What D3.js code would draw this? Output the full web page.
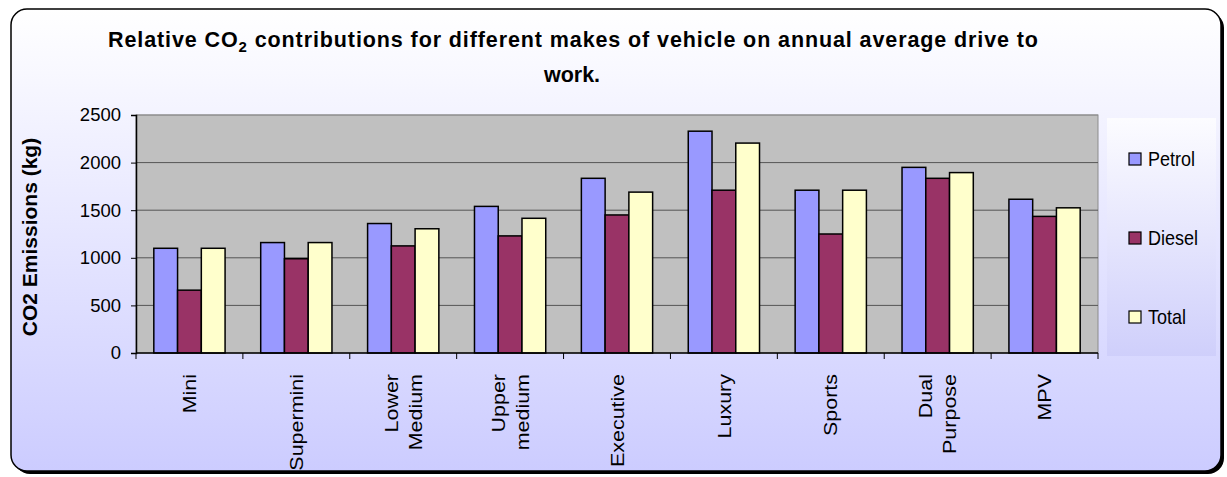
<!DOCTYPE html>
<html lang="en">
<head>
<meta charset="utf-8">
<title>Relative CO2 contributions</title>
<script src="https://d3js.org/d3.v7.min.js"></script>
<style>
  body { margin: 0; background: #ffffff; }
  svg { display: block; font-family: "Liberation Sans", Arial, sans-serif; }
  .tick-label { font-size: 18.5px; fill: #000; }
  .cat-label { font-size: 19px; fill: #000; }
</style>
</head>
<body>
<svg id="chart"></svg>
<script>
// data
const categories = ["Mini", "Supermini", "Lower Medium", "Upper medium", "Executive", "Luxury", "Sports", "Dual Purpose", "MPV"];
const categoryLines = [["Mini"], ["Supermini"], ["Lower", "Medium"], ["Upper", "medium"], ["Executive"], ["Luxury"], ["Sports"], ["Dual", "Purpose"], ["MPV"]];
const seriesNames = ["Petrol", "Diesel", "Total"];
const petrol = [1100, 1160, 1360, 1540, 1835, 2330, 1710, 1950, 1615];
const diesel = [660, 990, 1125, 1230, 1450, 1710, 1250, 1835, 1435];
const total = [1100, 1160, 1305, 1415, 1690, 2205, 1710, 1895, 1525];
const yTicks = [0, 500, 1000, 1500, 2000, 2500];

const seriesValues = [petrol, diesel, total];
const colors = ["#9999FF", "#993366", "#FFFFCC"];

const W = 1227, H = 477;
const plot = { left: 136, right: 1098, top: 115, bottom: 353 };

const svg = d3.select("#chart").attr("width", W).attr("height", H);

// gradients
const defs = svg.append("defs");
const bg = defs.append("linearGradient").attr("id", "bg").attr("x1", 0).attr("y1", 0).attr("x2", 0).attr("y2", 1);
bg.append("stop").attr("offset", "0%").attr("stop-color", "#FFFFFF");
bg.append("stop").attr("offset", "100%").attr("stop-color", "#CCCCFF");
const lg = defs.append("linearGradient").attr("id", "lg").attr("x1", 0).attr("y1", 0).attr("x2", 0).attr("y2", 1);
lg.append("stop").attr("offset", "0%").attr("stop-color", "#FCFCFF");
lg.append("stop").attr("offset", "100%").attr("stop-color", "#CFCFFB");

// chart area with shadow
svg.append("rect")
    .attr("x", 14).attr("y", 12).attr("width", 1210).attr("height", 462)
    .attr("rx", 16).attr("fill", "#000");
svg.append("rect")
    .attr("x", 11).attr("y", 9).attr("width", 1210).attr("height", 462)
    .attr("rx", 16).attr("fill", "url(#bg)")
    .attr("stroke", "#000").attr("stroke-width", 1.5);

// scales
const x0 = d3.scaleBand().domain(categories).range([plot.left, plot.right]);
const x1 = d3.scaleBand().domain(seriesNames).range([0, x0.bandwidth()]).paddingOuter(0.75);
const y = d3.scaleLinear().domain([0, 2500]).range([plot.bottom, plot.top]);

// plot area
svg.append("rect")
    .attr("x", plot.left).attr("y", plot.top)
    .attr("width", plot.right - plot.left).attr("height", plot.bottom - plot.top)
    .attr("fill", "#C0C0C0").attr("stroke", "#8c8c8c").attr("stroke-width", 1);

// gridlines
svg.append("g")
    .selectAll("line")
    .data(yTicks.filter(d => d > 0))
    .join("line")
    .attr("x1", plot.left).attr("x2", plot.right)
    .attr("y1", d => y(d)).attr("y2", d => y(d))
    .attr("stroke", d => d === 2500 ? "#8c8c8c" : "#555").attr("stroke-width", 1);

// bars
const groups = svg.append("g")
    .selectAll("g")
    .data(categories)
    .join("g")
    .attr("transform", d => `translate(${x0(d)},0)`);

groups.selectAll("rect")
    .data((d, i) => seriesNames.map((s, j) => ({ s, v: seriesValues[j][i], c: colors[j] })))
    .join("rect")
    .attr("x", d => x1(d.s))
    .attr("y", d => y(d.v))
    .attr("width", x1.bandwidth())
    .attr("height", d => y(0) - y(d.v))
    .attr("fill", d => d.c)
    .attr("stroke", "#000")
    .attr("stroke-width", 1.5);

// y axis
const yAxis = d3.axisLeft(y).tickValues(yTicks).tickSize(5).tickPadding(10).tickFormat(d3.format("d"));
const yg = svg.append("g").attr("transform", `translate(${plot.left},0)`).call(yAxis);
yg.select(".domain").attr("stroke", "#000").attr("stroke-width", 1.5);
yg.selectAll(".tick line").attr("stroke", "#000");
yg.selectAll(".tick text").attr("class", "tick-label").attr("font-family", null).attr("font-size", null);
yg.attr("font-family", null).attr("font-size", null);

// x axis line and ticks at category boundaries
svg.append("line")
    .attr("x1", plot.left).attr("x2", plot.right)
    .attr("y1", plot.bottom).attr("y2", plot.bottom)
    .attr("stroke", "#000").attr("stroke-width", 1.5);
const bounds = categories.map(c => x0(c)).concat([plot.right]);
svg.append("g")
    .selectAll("line")
    .data(bounds)
    .join("line")
    .attr("x1", d => d).attr("x2", d => d)
    .attr("y1", plot.bottom).attr("y2", plot.bottom + 6)
    .attr("stroke", "#000");

// x labels rotated
const xl = svg.append("g");
categoryLines.forEach((lines, i) => {
    const cx = x0(categories[i]) + x0.bandwidth() / 2;
    const n = lines.length;
    lines.forEach((t, k) => {
        const off = (k - (n - 1) / 2) * 24;
        xl.append("text")
            .attr("class", "cat-label")
            .attr("transform", `translate(${cx + off},374) rotate(-90) scale(1.13,1)`)
            .attr("text-anchor", "end")
            .attr("dy", "0.35em")
            .text(t);
    });
});

// y axis title
svg.append("text")
    .attr("transform", `translate(30,${(plot.top + plot.bottom) / 2 + 3}) rotate(-90)`)
    .attr("text-anchor", "middle")
    .attr("dy", "0.35em")
    .style("font-size", "21px").style("font-weight", "bold")
    .text("CO2 Emissions (kg)");

// title
const title = svg.append("text")
    .attr("x", 573).attr("y", 47)
    .attr("text-anchor", "middle")
    .attr("textLength", 930).attr("lengthAdjust", "spacing")
    .style("font-size", "21.5px").style("font-weight", "bold");
title.append("tspan").text("Relative CO");
title.append("tspan").attr("dy", 5).style("font-size", "15px").text("2");
title.append("tspan").attr("dy", -5).text(" contributions for different makes of vehicle on annual average drive to");
svg.append("text")
    .attr("x", 572).attr("y", 82)
    .attr("text-anchor", "middle")
    .style("font-size", "21.5px").style("font-weight", "bold")
    .text("work.");

// legend
svg.append("rect")
    .attr("x", 1107).attr("y", 118).attr("width", 109).attr("height", 238)
    .attr("fill", "url(#lg)");
const legendY = [159, 238, 317];
const leg = svg.append("g")
    .selectAll("g")
    .data(seriesNames)
    .join("g")
    .attr("transform", (d, i) => `translate(1129,${legendY[i]})`);
leg.append("rect")
    .attr("x", 0).attr("y", -6).attr("width", 12).attr("height", 12)
    .attr("fill", (d, i) => colors[i]).attr("stroke", "#000").attr("stroke-width", 1.2);
leg.append("text")
    .attr("transform", "translate(19,0) scale(1,1.15)")
    .attr("dy", "0.35em")
    .style("font-size", "18px")
    .text(d => d);
</script>
</body>
</html>
